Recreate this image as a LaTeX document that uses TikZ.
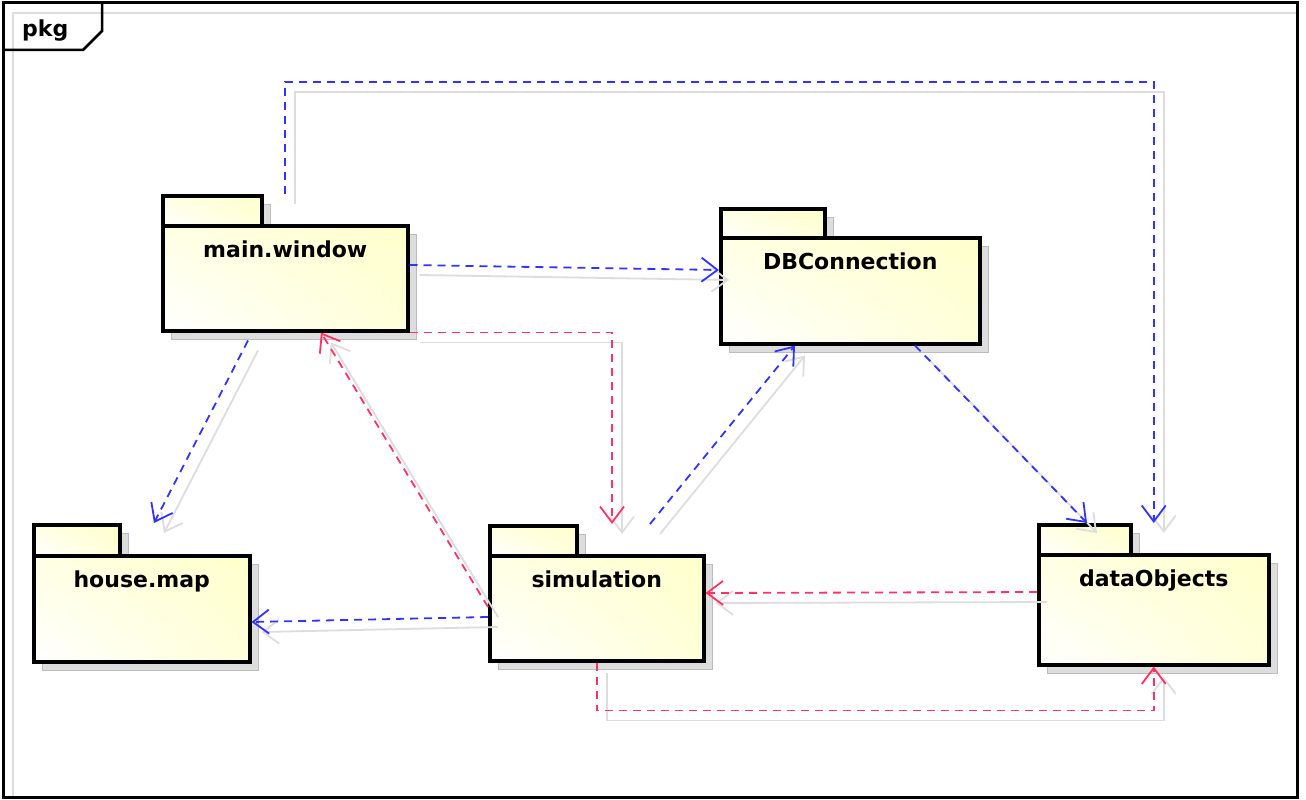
\documentclass[tikz,border=0pt]{standalone}
\usepackage{fontspec}
\setmainfont{DejaVu Sans}
\usetikzlibrary{arrows.meta,calc,shadings}
\definecolor{depblue}{RGB}{51,51,255}
\definecolor{depred}{RGB}{255,51,102}
\definecolor{shgray}{RGB}{221,221,221}
\definecolor{pkgyel}{RGB}{255,255,204}
\tikzset{
  pkgbody/.style={draw=black, line width=3.5pt, inner sep=0pt, anchor=north west,
    lower left=white, upper right=pkgyel, upper left=pkgyel!55!white, lower right=pkgyel!75!white},
  pkgshadow/.style={fill=shgray, draw=shgray!85!black, line width=1pt, inner sep=0pt, anchor=north west},
  pkgname/.style={font=\bfseries\fontsize{22}{24}\selectfont, anchor=base, inner sep=0pt},
  deptip/.style={-{Straight Barb[length=16pt,width=24pt,line width=1.8pt]}},
  blueln/.style={draw=depblue, line width=1.8pt, dash pattern=on 8pt off 6pt, deptip},
  redln/.style={draw=depred, line width=1.8pt, dash pattern=on 8pt off 6pt, deptip},
  shline/.style={draw=shgray, line width=1.8pt, deptip, transform canvas={xshift=10pt,yshift=-10pt}},
}
% #1 name, #2 x, #3 tab y, #4 tab w, #5 body y, #6 body w, #7 body h, #8 text
\newcommand\umlpkg[8]{%
  \node[pkgshadow, minimum width=#4pt, minimum height=#5pt-#3pt] (#1tS) at (#2+10,#3+10) {};
  \node[pkgshadow, minimum width=#6pt, minimum height=#7pt] (#1S) at (#2+10,#5+10) {};
  \node[pkgbody, minimum width=#4pt, minimum height=#5pt-#3pt] (#1t) at (#2,#3) {};
  \node[pkgbody, minimum width=#6pt, minimum height=#7pt] (#1) at (#2,#5) {};
  \node[pkgname] (#1txt) at ([yshift=-33pt]#1.north) {#8};
}
\newcommand\dep[2]{\draw[shline] #2; \draw[#1] #2;}
\begin{document}
\begin{tikzpicture}[x=1pt,y=-1pt]
\useasboundingbox (0,0) rectangle (1306,800);
\fill[white] (0,0) rectangle (1306,800);
% frame
\draw[shgray, line width=1.5pt] (13,797) -- (13,13) -- (1297,13);
\draw[line width=3pt] (3,3) rectangle (1297,797);
\draw[line width=2.5pt] (3,50) -- (83,50) -- (102,31) -- (102,3);
\node[font=\bfseries\fontsize{22}{24}\selectfont, anchor=base west, inner sep=0pt] (pkglbl) at (22,37) {pkg};
% packages
\umlpkg{mw}{161}{194}{99}{224}{245}{105}{main.window}
\umlpkg{db}{719}{207}{104}{236}{259}{106}{DBConnection}
\umlpkg{hm}{32}{523}{86}{554}{216}{106}{house.map}
\umlpkg{sim}{488}{524}{87}{554}{214}{105}{simulation}
\umlpkg{dob}{1037}{523}{92}{553}{230}{110}{dataObjects}
% dependencies
\dep{blueln}{([shift={(124,-30)}]mw.north west) -- ++(0,-112) -| (dob |- dobt.north)}
\dep{blueln}{([yshift=-41pt]mw.north east) -- ([yshift=-34pt]db.north west)}
\dep{blueln}{([shift={(87,8)}]mw.south west) -- ([xshift=122pt]hmt.north west)}
\dep{redln}{(mw.south east) -| ([xshift=124pt]simt.north west)}
\dep{redln}{([yshift=-53pt]sim.north west) -- ([xshift=160pt]mw.south west)}
\dep{blueln}{([xshift=162pt]simt.north west) -- ([xshift=76pt]db.south west)}
\dep{blueln}{([yshift=-63pt]sim.north west) -- ([yshift=-68pt]hm.north east)}
\dep{blueln}{([xshift=196pt]db.south west) -- ([xshift=50pt]dobt.north west)}
\dep{redln}{([yshift=-39pt]dob.north west) -- ([yshift=-39pt]sim.north east)}
\dep{redln}{(sim.south) -- ++(0,48) -| (dob.south)}
\end{tikzpicture}
\end{document}
